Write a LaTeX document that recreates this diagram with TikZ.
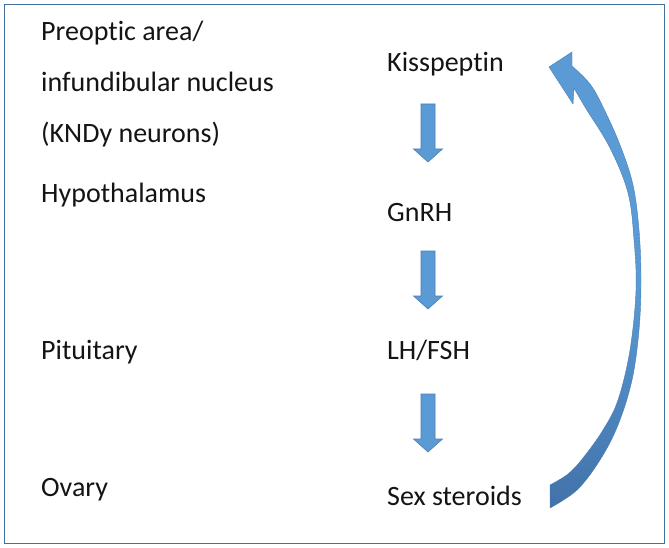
\documentclass[tikz,border=0pt]{standalone}
\usepackage{fontspec}
\setmainfont[Ligatures={NoCommon,NoRequired,NoContextual}]{Carlito}
\definecolor{txt}{HTML}{141414}
\definecolor{arrfill}{HTML}{5B9BD5}
\definecolor{arrline}{HTML}{4A7EB5}
\definecolor{arrdark}{HTML}{4272AA}
\definecolor{frame}{HTML}{41719C}
\tikzset{
  lbl/.style={anchor=base west, inner sep=0pt, font=\fontsize{28}{33}\selectfont, text=txt},
  blockarrow/.style={fill=arrfill, draw=arrline, line width=0.6pt, line join=miter},
  pics/downarr/.style={code={\path[blockarrow] (-7,0) -- (-7,-45) -- (-14.5,-45) -- (0,-58) -- (14.5,-45) -- (7,-45) -- (7,0) -- cycle;}}
}
\begin{document}
\begin{tikzpicture}[x=1pt,y=1pt]
\useasboundingbox (0,0) rectangle (669,-548);
\draw[frame, line width=1.5pt] (4.5,-4.5) rectangle (664.5,-543.5);
% left column
\node[lbl] (poa) at (41,-41) {Preoptic area/};
\node[lbl] (inf) at (41,-92) {infundibular nucleus};
\node[lbl] (kndy) at (41,-143) {(KNDy neurons)};
\node[lbl] (hyp) at (41,-203) {Hypothalamus};
\node[lbl] (pit) at (41,-359) {Pituitary};
\node[lbl] (ova) at (41,-496) {Ovary};
% right column
\node[lbl] (kiss) at (387,-72) {Kisspeptin};
\node[lbl] (gnrh) at (387,-222) {GnRH};
\node[lbl] (lhfsh) at (387,-359) {LH/FSH};
\node[lbl] (sex) at (387,-505) {Sex steroids};
% down arrows
\coordinate (a1) at (428,-104);
\coordinate (a2) at (428,-251);
\coordinate (a3) at (428,-394);
\pic at (a1) {downarr};
\pic at (a2) {downarr};
\pic at (a3) {downarr};
% curved feedback arrow
\shade[top color=arrfill, bottom color=arrdark, middle color=arrfill, draw=arrline, line width=0.4pt]
  (549,-67) -- (572,-52) -- (572,-66)
  -- plot[smooth, tension=0.6] coordinates {(572,-66) (590,-84) (603,-107) (620,-145) (633,-185) (639,-230) (641,-280) (639,-330) (632,-380) (618,-425) (600,-460) (577,-490) (550,-508)}
  -- (550,-485)
  -- plot[smooth, tension=0.6] coordinates {(550,-485) (568,-474) (583,-458) (603,-430) (618,-400) (630,-350) (636,-290) (634,-240) (628,-193) (610,-148) (585,-107) (574,-88)}
  -- (573,-104) -- cycle;
\end{tikzpicture}
\end{document}
